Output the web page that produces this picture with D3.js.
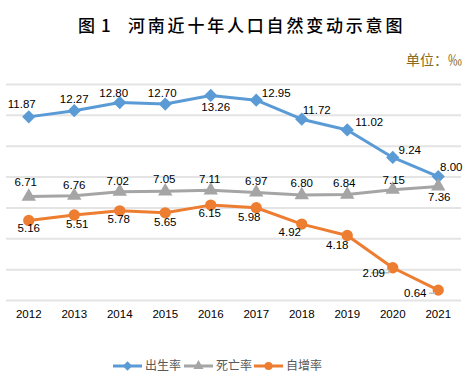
<!DOCTYPE html>
<html><head><meta charset="utf-8">
<script src="https://cdn.jsdelivr.net/npm/d3@7"></script>
<style>
body{margin:0;background:#fff;}
svg{display:block;}
</style></head>
<body>
<svg id="c" width="469" height="386"></svg>
<script>
const years = ["2012","2013","2014","2015","2016","2017","2018","2019","2020","2021"];
const birthRate = [11.87,12.27,12.80,12.70,13.26,12.95,11.72,11.02,9.24,8.00];
const deathRate = [6.71,6.76,7.02,7.05,7.11,6.97,6.80,6.84,7.15,7.36];
const growthRate = [5.16,5.51,5.78,5.65,6.15,5.98,4.92,4.18,2.09,0.64];
const yTicks = [0,2,4,6,8,10,12,14];
const seriesNames = ["出生率","死亡率","自增率"];

// label offsets (dx, dy) relative to point
const birthOff = [[-7,-13],[0,-12],[-6,-10],[-3,-11],[5,12],[20,-7],[15,-9],[22,-8],[17,-7],[13,-10]];
const deathOff = [[-3,-14],[0,-11],[-2,-11],[-1,-12],[-1,-11],[0,-11],[0,-12],[-3,-11],[1,-10],[1,11]];
const growthOff = [[0,8],[3,9],[-1,8],[0,9],[-1,8],[-7,9],[-12,8],[-10,9],[-19,5],[-23,3]];

const svg = d3.select("#c");
const x = d3.scaleBand().domain(years).range([6,461]);
const y = d3.scaleLinear().domain([0,14]).range([300,84]);
const cx = d => x(d) + x.bandwidth()/2;

// title
const tf = "Noto Sans CJK SC";
svg.append("text").attr("x",78).attr("y",32).attr("font-family",tf).attr("font-size",17).attr("font-weight",500).attr("fill","#000").text("图");
svg.append("text").attr("x",101).attr("y",32).attr("font-family",tf).attr("font-size",17).attr("font-weight",500).attr("fill","#000").text("1");
svg.append("text").attr("x",128).attr("y",32).attr("font-family",tf).attr("font-size",17).attr("letter-spacing",2.8).attr("font-weight",500).attr("fill","#000").text("河南近十年人口自然变动示意图");
svg.append("text").attr("x",462).attr("y",65).attr("text-anchor","end").attr("font-family",tf).attr("font-size",14).attr("fill","#8a6a1c").text("单位：‰");

// grid
const yAxis = d3.axisLeft(y).tickValues(yTicks).tickSize(-455).tickFormat("");
const gy = svg.append("g").attr("transform","translate(6,0)").call(yAxis);
gy.select(".domain").remove();
gy.selectAll(".tick line").attr("stroke","#e4e4e4").attr("stroke-width",2);

// x axis labels
const xAxis = d3.axisBottom(x).tickSize(0).tickPadding(10);
const gx = svg.append("g").attr("transform","translate(0,300)").call(xAxis);
gx.select(".domain").remove();
gx.selectAll("text").attr("font-family","Liberation Sans, Arial").attr("font-size",11.5).attr("fill","#000");

const series = [
  {vals:birthRate, color:"#5B9BD5", sym:d3.symbolSquare, size:88, rot:45, off:birthOff},
  {vals:deathRate, color:"#A5A5A5", sym:d3.symbolTriangle, size:90, rot:0, off:deathOff},
  {vals:growthRate, color:"#ED7D31", sym:d3.symbolCircle, size:100, rot:0, off:growthOff}
];

const line = d3.line().x((d,i)=>cx(years[i])).y(d=>y(d));

// leader lines for small labels
const leaders = [[8,-22,-5],[9,-9,3]];

series.forEach(s=>{
  svg.append("path").attr("d",line(s.vals)).attr("fill","none").attr("stroke",s.color).attr("stroke-width",3).attr("stroke-linejoin","round");
});
series.forEach(s=>{
  svg.selectAll(null).data(s.vals).enter().append("path")
    .attr("d",d3.symbol().type(s.sym).size(s.size))
    .attr("transform",(d,i)=>`translate(${cx(years[i])},${y(d)}) rotate(${s.rot})`)
    .attr("fill",s.color);
});
leaders.forEach(([i,dx,dy])=>{
  const px = cx(years[i]), py = y(growthRate[i]);
  svg.append("path").attr("d",`M${px+dx},${py+growthOff[i][1]}L${px-4},${py+growthOff[i][1]}L${px-4},${py+2}`)
    .attr("fill","none").attr("stroke","#bfbfbf").attr("stroke-width",1.5);
});
series.forEach(s=>{
  svg.selectAll(null).data(s.vals).enter().append("text")
    .attr("x",(d,i)=>cx(years[i])+s.off[i][0])
    .attr("y",(d,i)=>y(d)+s.off[i][1])
    .attr("dy","0.35em")
    .attr("text-anchor","middle")
    .attr("font-family","Liberation Sans, Arial")
    .attr("font-size",11.5)
    .attr("fill","#000")
    .text(d=>d.toFixed(2));
});

// legend
const legX = [113,184,254];
const lg = svg.append("g");
series.forEach((s,i)=>{
  const g = lg.append("g").attr("transform",`translate(${legX[i]},366)`);
  g.append("line").attr("x1",0).attr("x2",29).attr("stroke",s.color).attr("stroke-width",3);
  g.append("path").attr("d",d3.symbol().type(s.sym).size(s.size*0.5)).attr("transform",`translate(14.5,0) rotate(${s.rot})`).attr("fill",s.color);
  g.append("text").attr("x",32).attr("dy","0.35em").attr("font-family",tf).attr("font-size",12).attr("fill","#595959").text(seriesNames[i]);
});
</script>
</body></html>
